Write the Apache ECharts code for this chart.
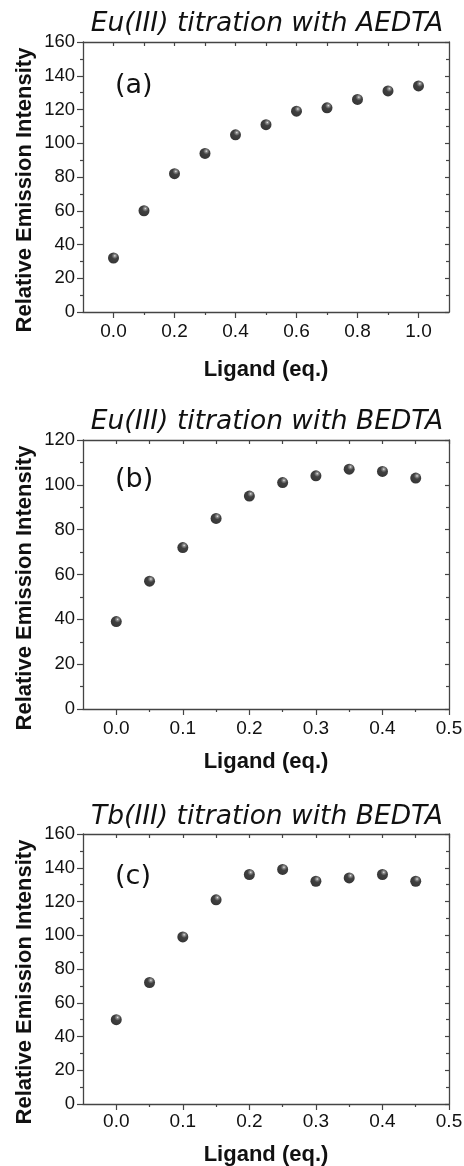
<!DOCTYPE html>
<html>
<head>
<meta charset="utf-8">
<script src="https://cdn.jsdelivr.net/npm/echarts@6/dist/echarts.min.js"></script>
<style>
  html, body { margin: 0; padding: 0; background: #fff; }
  #chart { width: 464px; height: 1166px; }
</style>
</head>
<body>
<div id="chart"></div>
<script>
// titration data
const titles = ['Eu(III) titration with AEDTA', 'Eu(III) titration with BEDTA', 'Tb(III) titration with BEDTA'];
const panelTags = ['(a)', '(b)', '(c)'];

const ligandA = [0.0, 0.1, 0.2, 0.3, 0.4, 0.5, 0.6, 0.7, 0.8, 0.9, 1.0];
const intensityA = [32, 60, 82, 94, 105, 111, 119, 121, 126, 131, 134];

const ligandB = [0.0, 0.05, 0.1, 0.15, 0.2, 0.25, 0.3, 0.35, 0.4, 0.45];
const intensityB = [39, 57, 72, 85, 95, 101, 104, 107, 106, 103];

const ligandC = [0.0, 0.05, 0.1, 0.15, 0.2, 0.25, 0.3, 0.35, 0.4, 0.45];
const intensityC = [50, 72, 99, 121, 136, 139, 132, 134, 136, 132];

// tick values
const xMajorA = [0.0, 0.2, 0.4, 0.6, 0.8, 1.0];
const xMinorA = [0.1, 0.3, 0.5, 0.7, 0.9];
const xMajorBC = [0.0, 0.1, 0.2, 0.3, 0.4, 0.5];
const xMinorBC = [0.05, 0.15, 0.25, 0.35, 0.45];

const yMaxes = [160, 120, 160];
const xMins = [-0.1, -0.05, -0.05];
const xMaxes = [1.1, 0.5, 0.5];

const panels = [
    { x: ligandA, y: intensityA, major: xMajorA, minor: xMinorA },
    { x: ligandB, y: intensityB, major: xMajorBC, minor: xMinorBC },
    { x: ligandC, y: intensityC, major: xMajorBC, minor: xMinorBC }
];

// layout (px)
const gridTops = [42, 440, 834];
const gridHeights = [270, 269, 270];
const titleY = [24, 422, 817];
const tagY = [86, 480, 877];
const yNameY = [190, 588, 982];
const labelMargins = [10, 10, 8];
const nameGaps = [47, 42, 40];

const chart = echarts.init(document.getElementById('chart'));

const lineColor = '#444';
const textColor = '#111';

// shaded black ball
const sphere = {
    type: 'radial', x: 0.62, y: 0.3, r: 0.8,
    colorStops: [
        { offset: 0, color: '#e6e6e6' },
        { offset: 0.12, color: '#777' },
        { offset: 0.36, color: '#111' },
        { offset: 1, color: '#000' }
    ]
};

const grids = [], xAxes = [], yAxes = [], series = [], graphics = [];

panels.forEach(function (p, i) {
    grids.push({
        left: 83, width: 366, top: gridTops[i], height: gridHeights[i],
        containLabel: false, outerBoundsMode: 'none'
    });

    const fmt = v => v.toFixed(1);
    // bottom axis with labels and major ticks
    xAxes.push({
        type: 'value', gridIndex: i, position: 'bottom', offset: 0,
        min: xMins[i], max: xMaxes[i],
        name: 'Ligand (eq.)', nameLocation: 'middle', nameGap: nameGaps[i],
        nameTextStyle: { fontFamily: 'Liberation Sans', fontWeight: 'bold', fontSize: 22, color: textColor },
        axisLine: { onZero: false, lineStyle: { color: lineColor, width: 1.3 } },
        axisTick: { show: true, length: 6, customValues: p.major, lineStyle: { color: lineColor, width: 1.2 } },
        axisLabel: { customValues: p.major, formatter: fmt, margin: labelMargins[i], fontFamily: 'Liberation Sans', fontSize: 19, color: textColor },
        splitLine: { show: false }
    });
    // bottom minor ticks
    xAxes.push({
        type: 'value', gridIndex: i, position: 'bottom', offset: 0,
        min: xMins[i], max: xMaxes[i],
        axisLine: { show: false, onZero: false },
        axisTick: { show: true, length: 3, customValues: p.minor, lineStyle: { color: lineColor, width: 1.2 } },
        axisLabel: { show: false },
        splitLine: { show: false }
    });
    // top mirror axis
    xAxes.push({
        type: 'value', gridIndex: i, position: 'top', offset: 0,
        min: xMins[i], max: xMaxes[i],
        axisLine: { onZero: false, lineStyle: { color: lineColor, width: 1.3 } },
        axisTick: { show: true, inside: true, length: 4, customValues: p.major.concat(p.minor), lineStyle: { color: lineColor, width: 1.2 } },
        axisLabel: { show: false },
        splitLine: { show: false }
    });

    yAxes.push({
        type: 'value', gridIndex: i, position: 'left',
        min: 0, max: yMaxes[i], interval: 20,
        axisLine: { show: true, onZero: false, lineStyle: { color: lineColor, width: 1.3 } },
        axisTick: { show: true, length: 6, lineStyle: { color: lineColor, width: 1.2 } },
        minorTick: { show: true, splitNumber: 2, length: 3, lineStyle: { color: lineColor, width: 1.2 } },
        axisLabel: { margin: 8, fontFamily: 'Liberation Sans', fontSize: 18.5, color: textColor, showMinLabel: true, showMaxLabel: true },
        splitLine: { show: false }
    });
    yAxes.push({
        type: 'value', gridIndex: i, position: 'right',
        min: 0, max: yMaxes[i], interval: 20,
        axisLine: { show: true, onZero: false, lineStyle: { color: lineColor, width: 1.3 } },
        axisTick: { show: true, inside: true, length: 4, lineStyle: { color: lineColor, width: 1.2 } },
        minorTick: { show: true, splitNumber: 2, length: 3, lineStyle: { color: lineColor, width: 1.2 } },
        axisLabel: { show: false },
        splitLine: { show: false }
    });

    series.push({
        type: 'scatter',
        xAxisIndex: i * 3, yAxisIndex: i * 2,
        symbol: 'circle', symbolSize: 11,
        itemStyle: { color: sphere },
        data: p.x.map((x, k) => [x, p.y[k]])
    });

    graphics.push({
        type: 'text', x: 267, y: titleY[i],
        style: {
            text: titles[i], font: 'italic 26.5px "DejaVu Sans"', fill: textColor,
            align: 'center', verticalAlign: 'middle', textAlign: 'center', textVerticalAlign: 'middle'
        }
    });
    graphics.push({
        type: 'text', x: 115, y: tagY[i],
        style: {
            text: panelTags[i], font: '27px "DejaVu Sans"', fill: textColor,
            align: 'left', verticalAlign: 'middle', textAlign: 'left', textVerticalAlign: 'middle'
        }
    });
    graphics.push({
        type: 'text', x: 25, y: yNameY[i], rotation: Math.PI / 2,
        style: {
            text: 'Relative Emission Intensity', font: 'bold 22px "Liberation Sans"', fill: textColor,
            align: 'center', verticalAlign: 'middle', textAlign: 'center', textVerticalAlign: 'middle'
        }
    });
});

const option = {
    backgroundColor: '#fff',
    animation: false,
    grid: grids,
    xAxis: xAxes,
    yAxis: yAxes,
    series: series,
    graphic: graphics
};

chart.setOption(option);
</script>
</body>
</html>
